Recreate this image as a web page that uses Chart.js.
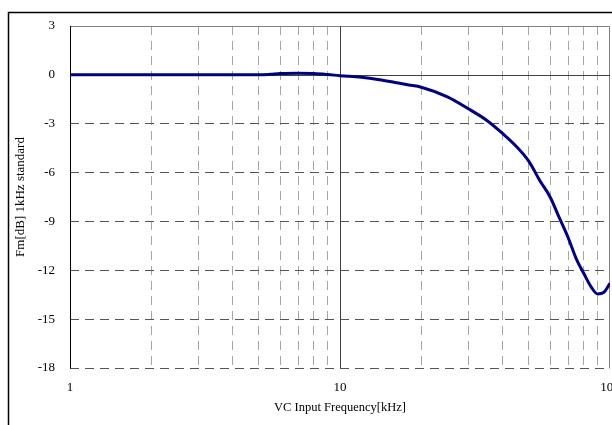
<!DOCTYPE html>
<html>
<head>
<meta charset="utf-8">
<script src="https://cdn.jsdelivr.net/npm/chart.js"></script>
<style>
  html, body { margin: 0; padding: 0; background: #fff; }
  #wrap { width: 612px; height: 425px; }
</style>
</head>
<body>
<div id="wrap"><canvas id="line-chart" width="612" height="425"></canvas></div>
<script>
// FREQUENCIAS (kHz) E RESPOSTA (dB)
const freqKHz = [1, 2, 3, 4, 5, 5.5, 6, 7, 8, 9, 10, 12, 14, 16, 18, 20, 25, 30, 35, 40, 45, 50, 55, 60, 65, 70, 75, 80, 85, 90, 95, 100];
const fmDb = [0, 0, 0, 0, 0, 0.03, 0.08, 0.1, 0.08, 0.02, -0.05, -0.15, -0.3, -0.47, -0.62, -0.76, -1.35, -2.1, -2.8, -3.6, -4.4, -5.3, -6.5, -7.5, -8.8, -10.0, -11.3, -12.2, -13.0, -13.45, -13.35, -12.8];

// LINHAS DE GRADE DO EIXO X (LOG) E ROTULOS QUE APARECEM
const xGridValues = [1, 2, 3, 4, 5, 6, 7, 8, 9, 10, 20, 30, 40, 50, 60, 70, 80, 90, 100];
const xTickLabels = { 1: '1', 10: '10', 100: '100' };
const yMin = -18;
const yMax = 3;
const yStep = 3;

const FONT = 'Liberation Serif, Times New Roman, serif';

// PONTOS DA CURVA
const points = freqKHz.map((f, i) => ({ x: f, y: fmDb[i] }));

// PLUGIN PARA MOLDURA E LINHAS SOLIDAS EM 0 dB E 10 kHz
const framePlugin = {
  id: 'frame',
  beforeDraw(chart) {
    const ctx = chart.ctx;
    ctx.save();
    ctx.fillStyle = '#fff';
    ctx.fillRect(0, 0, chart.width, chart.height);
    ctx.strokeStyle = '#000';
    ctx.lineWidth = 1.5;
    ctx.beginPath();
    ctx.moveTo(8.5, chart.height + 2);
    ctx.lineTo(8.5, 12.5);
    ctx.lineTo(chart.width + 2, 12.5);
    ctx.stroke();
    ctx.restore();
  },
  beforeDatasetsDraw(chart) {
    const ctx = chart.ctx;
    const a = chart.chartArea;
    const xs = chart.scales.x;
    const ys = chart.scales.y;
    ctx.save();
    ctx.setLineDash([]);
    ctx.lineWidth = 1;

    // TOPO E DIREITA EM CINZA
    ctx.strokeStyle = '#808080';
    ctx.beginPath();
    ctx.moveTo(Math.round(a.left) + 0.5, Math.round(a.top) + 0.5);
    ctx.lineTo(Math.round(a.right) - 0.5, Math.round(a.top) + 0.5);
    ctx.lineTo(Math.round(a.right) - 0.5, Math.round(a.bottom) + 0.5);
    ctx.stroke();

    // LINHAS SOLIDAS EM 0 dB E 10 kHz
    ctx.strokeStyle = '#404040';
    const y0 = Math.round(ys.getPixelForValue(0)) + 0.5;
    const x10 = Math.round(xs.getPixelForValue(10)) + 0.5;
    ctx.beginPath();
    ctx.moveTo(a.left, y0);
    ctx.lineTo(a.right, y0);
    ctx.moveTo(x10, a.top);
    ctx.lineTo(x10, a.bottom);
    ctx.stroke();

    // BORDA ESQUERDA PRETA
    ctx.strokeStyle = '#000';
    ctx.beginPath();
    ctx.moveTo(Math.round(a.left) + 0.5, a.top);
    ctx.lineTo(Math.round(a.left) + 0.5, a.bottom + 0.5);
    ctx.stroke();
    ctx.restore();
  }
};

const ctx = document.getElementById('line-chart').getContext('2d');
new Chart(ctx, {
  type: 'line',
  data: {
    datasets: [{
      label: 'Fm',
      data: points,
      borderColor: '#000080',
      borderWidth: 3,
      pointRadius: 0,
      fill: false,
      cubicInterpolationMode: 'monotone'
    }]
  },
  options: {
    responsive: false,
    animation: false,
    events: [],
    layout: { padding: { left: 0, top: 26, right: 2, bottom: 0 } },
    plugins: {
      legend: { display: false },
      tooltip: { enabled: false }
    },
    scales: {
      x: {
        type: 'logarithmic',
        min: 1,
        max: 100,
        afterBuildTicks: (scale) => {
          scale.ticks = xGridValues.map(v => ({ value: v }));
        },
        afterFit: (scale) => {
          scale.height = 57;
          scale.paddingLeft = 0;
          scale.paddingRight = 0;
        },
        border: { display: false, dash: [9, 6] },
        grid: {
          drawTicks: false,
          color: (c) => {
            const v = c.tick ? c.tick.value : null;
            if (v === 1 || v === 10 || v === 100) return 'rgba(0,0,0,0)';
            return '#a6a6a6';
          }
        },
        ticks: {
          autoSkip: false,
          maxRotation: 0,
          padding: 12,
          color: '#000',
          font: { family: FONT, size: 13 },
          callback: (value) => xTickLabels[value] || ''
        },
        title: {
          display: true,
          text: 'VC Input Frequency[kHz]',
          color: '#000',
          font: { family: FONT, size: 12.5 },
          padding: { top: 0, bottom: 10 }
        }
      },
      y: {
        min: yMin,
        max: yMax,
        afterFit: (scale) => {
          scale.width = 70;
          scale.paddingTop = 0;
          scale.paddingBottom = 0;
        },
        border: { display: false, dash: [9, 6] },
        grid: {
          drawTicks: false,
          color: (c) => {
            const v = c.tick ? c.tick.value : null;
            if (v === 0 || v === yMax) return 'rgba(0,0,0,0)';
            return '#555555';
          }
        },
        ticks: {
          stepSize: yStep,
          padding: 15,
          color: '#000',
          font: { family: FONT, size: 13 }
        },
        title: {
          display: true,
          text: 'Fm[dB] 1kHz standard',
          color: '#000',
          font: { family: FONT, size: 13 },
          padding: { top: 13, bottom: 0 }
        }
      }
    }
  },
  plugins: [framePlugin]
});
</script>
</body>
</html>
